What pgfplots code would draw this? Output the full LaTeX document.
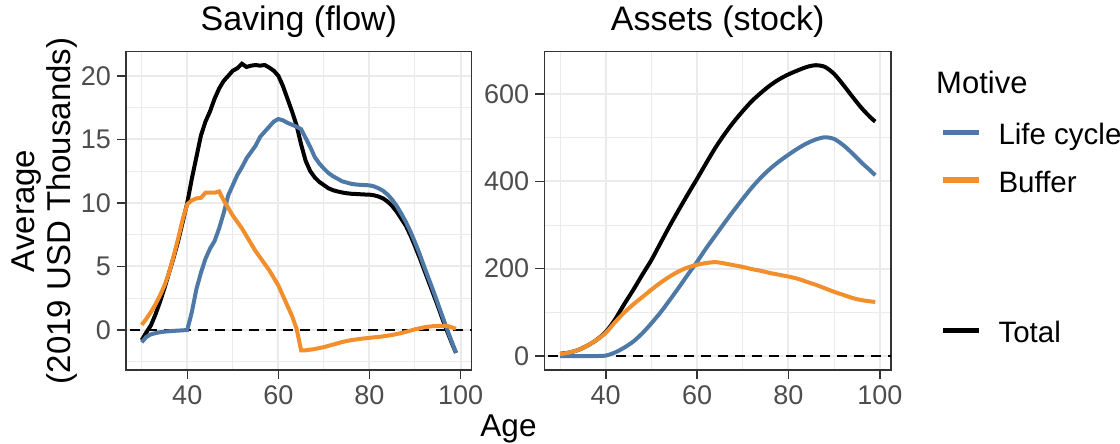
\documentclass[border=0pt]{standalone}
\usepackage{pgfplots}
\pgfplotsset{compat=1.18}
\usepackage{fontspec}
\setmainfont{Liberation Sans}

\definecolor{lcblue}{HTML}{4E79A7}
\definecolor{bforange}{HTML}{F28E2B}
\definecolor{gridgrey}{HTML}{EBEBEB}
\definecolor{framegrey}{HTML}{333333}
\definecolor{ticktext}{HTML}{4D4D4D}

\newcommand\tickfont{\fontsize{27bp}{30bp}\selectfont}
\newcommand\titlefont{\fontsize{34bp}{38bp}\selectfont}
\newcommand\labfont{\fontsize{33bp}{37bp}\selectfont}
\newcommand\agefont{\fontsize{31.5bp}{35bp}\selectfont}
\newcommand\keyfont{\fontsize{29.5bp}{33bp}\selectfont}
\newcommand\keytitlefont{\fontsize{31bp}{35bp}\selectfont}

\pgfplotsset{
  panel/.style={
    scale only axis, height=318.3bp,
    xmin=26.55, xmax=102.45,
    xtick={40,60,80,100}, minor xtick={30,50,70,90},
    tick pos=left, tick align=outside,
    major tick length=9bp, minor tick length=0pt,
    grid=both,
    major grid style={draw=gridgrey, line width=2bp},
    minor grid style={draw=gridgrey, line width=1bp},
    axis line style={draw=framegrey, line width=1.5bp},
    major tick style={draw=framegrey, line width=1.5bp},
    tick label style={font=\tickfont, text=ticktext, inner sep=0pt},
    xticklabel style={anchor=north, yshift=-6bp},
    yticklabel style={anchor=east, xshift=-6bp},
    /pgf/number format/assume math mode=true,
    title style={font=\titlefont, at={(0.5,1)}, anchor=base, yshift=15bp},
    legend image code/.code={\draw[#1, line width=5.5bp] (0bp,0bp) -- (36.7bp,0bp);},
    legend cell align=left,
  },
  keylegend/.style={
    legend style={draw=none, fill=none, inner sep=0pt, outer sep=0pt,
      font=\keyfont, row sep=20bp, column sep=16.3bp,
      nodes={inner sep=0pt}},
  },
  zeroline/.style={black, dashed, dash pattern=on 10bp off 7bp, line width=2bp},
  total/.style={black, line width=4bp},
  lifecycle/.style={lcblue, line width=4bp},
  buffer/.style={bforange, line width=4bp},
}

\newcommand\entry[1]{\rule[-4bp]{0pt}{30bp}#1}

\begin{document}
\begin{tikzpicture}[x=1bp, y=1bp]
\useasboundingbox (0,0) rectangle (1120,444);

% ---------------- Saving (flow) ----------------
\begin{axis}[panel, at={(126bp,74bp)}, anchor=south west, width=345.7bp,
  ymin=-3.15, ymax=21.9,
  ytick={0,5,10,15,20}, minor ytick={-2.5,2.5,7.5,12.5,17.5},
  title={Saving (flow)}]
\addplot[zeroline] coordinates {(20,0) (110,0)};
\addplot[total] coordinates {
(30,-0.8) (31,-0.2) (32,0.35) (33,1.2) (34,2.2) (35,3.3) (36,4.5) (37,5.7)
(38,7.0) (39,8.5) (40,10.0) (41,11.9) (42,13.6) (43,15.3) (44,16.4) (45,17.2)
(46,18.2) (47,19.0) (48,19.6) (49,20.0) (50,20.4) (51,20.6) (52,20.95) (53,20.7)
(54,20.8) (55,20.85) (56,20.8) (57,20.85) (58,20.65) (59,20.4) (60,20.0) (61,19.2)
(62,18.2) (63,17.2) (64,16.1) (65,14.6) (66,13.3) (67,12.5) (68,12.0) (69,11.65)
(70,11.4) (71,11.15) (72,11.0) (73,10.9) (74,10.82) (75,10.76) (76,10.72) (77,10.7)
(78,10.68) (79,10.66) (80,10.65) (81,10.6) (82,10.5) (83,10.35) (84,10.1) (85,9.75)
(86,9.3) (87,8.75) (88,8.2) (89,7.45) (90,6.6) (91,5.7) (92,4.75) (93,3.8)
(94,2.85) (95,1.9) (96,0.9) (97,-0.05) (98,-0.95) (99,-1.8)};
\addplot[lifecycle] coordinates {
(30,-0.97) (31,-0.55) (32,-0.35) (33,-0.25) (34,-0.18) (35,-0.13) (36,-0.1) (37,-0.07)
(38,-0.05) (39,-0.03) (40,0.0) (41,1.4) (42,3.2) (43,4.5) (44,5.6) (45,6.4)
(46,7.0) (47,8.0) (48,9.2) (49,10.6) (50,11.4) (51,12.2) (52,12.8) (53,13.5)
(54,14.0) (55,14.5) (56,15.2) (57,15.6) (58,16.0) (59,16.4) (60,16.6) (61,16.5)
(62,16.3) (63,16.15) (64,16.0) (65,15.8) (66,15.1) (67,14.4) (68,13.6) (69,13.1)
(70,12.7) (71,12.35) (72,12.1) (73,11.9) (74,11.7) (75,11.6) (76,11.5) (77,11.45)
(78,11.42) (79,11.4) (80,11.38) (81,11.3) (82,11.15) (83,10.95) (84,10.65) (85,10.25)
(86,9.75) (87,9.15) (88,8.5) (89,7.75) (90,6.9) (91,6.0) (92,5.0) (93,4.05)
(94,3.1) (95,2.1) (96,1.1) (97,0.1) (98,-0.85) (99,-1.8)};
\addplot[buffer] coordinates {
(30,0.4) (31,0.87) (32,1.4) (33,2.0) (34,2.7) (35,3.5) (36,4.5) (37,5.8)
(38,7.2) (39,8.7) (40,9.9) (41,10.2) (42,10.35) (43,10.4) (44,10.8) (45,10.8)
(46,10.8) (47,10.9) (48,10.2) (49,9.6) (50,9.0) (51,8.5) (52,8.0) (53,7.4)
(54,6.8) (55,6.2) (56,5.7) (57,5.2) (58,4.7) (59,4.1) (60,3.5) (61,2.7)
(62,1.9) (63,1.1) (64,0.1) (65,-1.6) (66,-1.6) (67,-1.55) (68,-1.5) (69,-1.42)
(70,-1.35) (71,-1.25) (72,-1.15) (73,-1.05) (74,-0.95) (75,-0.87) (76,-0.8) (77,-0.75)
(78,-0.7) (79,-0.66) (80,-0.62) (81,-0.58) (82,-0.55) (83,-0.5) (84,-0.45) (85,-0.39)
(86,-0.32) (87,-0.24) (88,-0.15) (89,-0.05) (90,0.05) (91,0.13) (92,0.2) (93,0.26)
(94,0.3) (95,0.32) (96,0.33) (97,0.32) (98,0.22) (99,0.1)};
\end{axis}

% ---------------- Assets (stock) ----------------
\begin{axis}[panel, keylegend, at={(544.3bp,74bp)}, anchor=south west, width=346.7bp,
  ymin=-32, ymax=697,
  ytick={0,200,400,600}, minor ytick={100,300,500},
  title={Assets (stock)},
  legend style={at={(axis description cs:1.1413,0.671)}, anchor=west}]
\addplot[zeroline, forget plot] coordinates {(20,0) (110,0)};
\addplot[total, smooth, tension=0.5, forget plot] coordinates {
(30,5) (32,8) (34,14) (36,24) (38,37) (40,55) (42,83) (44,118) (46,151) (48,186)
(50,220) (52,259) (54,298) (56,335) (58,371) (60,406) (62,442) (64,477) (66,508)
(68,536) (70,561) (72,584) (74,603) (76,620) (78,634) (80,645) (82,654) (84,662)
(86,666) (88,662) (90,646) (92,621) (94,594) (96,568) (98,546) (99,537)};
\addplot[lifecycle, smooth, tension=0.5] coordinates {
(30,0) (32,0) (34,0) (36,0) (38,0) (40,1) (42,8) (44,19) (46,33) (48,52)
(50,75) (52,100) (54,128) (56,157) (58,187) (60,216) (62,247) (64,276) (66,305)
(68,333) (70,360) (72,386) (74,409) (76,429) (78,446) (80,461) (82,475) (84,487)
(86,496) (88,501) (90,497) (92,483) (94,464) (96,443) (98,424) (99,414)};
\addlegendentry{\entry{Life cycle}}
\addplot[buffer, smooth, tension=0.5] coordinates {
(30,4) (32,8) (34,14) (36,24) (38,37) (40,53) (42,77) (44,99) (46,118) (48,135)
(50,152) (52,168) (54,182) (56,194) (58,203) (60,209) (62,213) (64,215) (66,212)
(68,208) (70,204) (72,199) (74,195) (76,190) (78,186) (80,182) (82,177) (84,170)
(86,163) (88,155) (90,147) (92,140) (94,133) (96,128) (98,125) (99,124)};
\addlegendentry{\entry{Buffer}}
\end{axis}

% key for the total line, set apart below the motives
\begin{axis}[panel, keylegend, hide axis, at={(544.3bp,74bp)}, anchor=south west, width=346.7bp,
  ymin=0, ymax=1,
  legend style={at={(axis description cs:1.1413,0.1244)}, anchor=west}]
\addlegendimage{total}
\addlegendentry{\entry{Total}}
\end{axis}

\node[font=\keytitlefont, anchor=base west, inner sep=0pt] at (936,350.7) {Motive};
\node[font=\agefont, anchor=base] at (508.5,7.3) {Age};
\node[font=\labfont, rotate=90, anchor=base] at (34,233) {Average};
\node[font=\labfont, rotate=90, anchor=base] at (70,233) {(2019 USD Thousands)};
\end{tikzpicture}
\end{document}
